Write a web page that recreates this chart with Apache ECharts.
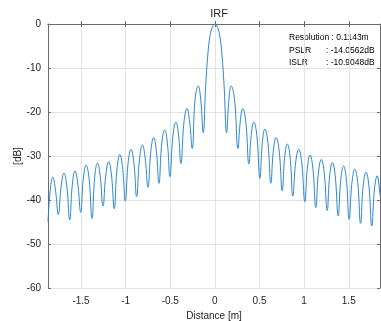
<!DOCTYPE html>
<html>
<head>
<meta charset="utf-8">
<script src="https://cdn.jsdelivr.net/npm/echarts@6/dist/echarts.min.js"></script>
<style>html,body{margin:0;padding:0;background:#fff}#c{width:381px;height:321px}</style>
</head>
<body>
<div id="c"></div>
<script>
// Distance [m] of each read point (nulls, lobe shoulders, peaks)
var distance = [
 -1.870,
 -1.845,-1.817,-1.786,-1.755,
 -1.723,-1.691,-1.659,-1.627,
 -1.597,-1.568,-1.536,-1.504,
 -1.474,-1.443,-1.410,-1.377,
 -1.346,-1.315,-1.285,-1.254,
 -1.222,-1.190,-1.159,-1.128,
 -1.096,-1.064,-1.034,-1.004,
 -0.972,-0.940,-0.908,-0.877,
 -0.844,-0.812,-0.781,-0.750,
 -0.717,-0.686,-0.656,-0.627,
 -0.595,-0.562,-0.532,-0.504,
 -0.470,-0.436,-0.407,-0.381,
 -0.346,-0.312,-0.283,-0.254,
 -0.222,-0.187,-0.159,-0.131,
 -0.103,-0.078,-0.057,-0.030,
 0.000,
 0.030,0.057,0.078,0.103,
 0.131,0.157,0.183,0.220,
 0.258,0.284,0.312,0.346,
 0.381,0.407,0.436,0.470,
 0.504,0.532,0.560,0.594,
 0.627,0.655,0.686,0.720,
 0.754,0.782,0.812,0.843,
 0.873,0.905,0.939,0.973,
 1.008,1.036,1.066,1.098,
 1.131,1.160,1.192,1.225,
 1.258,1.286,1.316,1.348,
 1.381,1.411,1.442,1.473,
 1.504,1.536,1.568,1.600,
 1.632,1.662,1.693,1.725,
 1.758,1.788,1.818,1.850
];
// IRF level [dB] at each point above
var levelDb = [
 -45.0,
 -37.8,-34.8,-37.8,-43.3,
 -36.9,-33.9,-36.9,-44.5,
 -36.4,-33.4,-36.4,-42.8,
 -35.1,-32.1,-35.1,-44.2,
 -34.6,-31.6,-34.6,-41.4,
 -34.3,-31.3,-34.3,-42.0,
 -32.7,-29.7,-32.7,-40.2,
 -31.5,-28.5,-31.5,-39.2,
 -30.5,-27.5,-30.5,-37.1,
 -28.8,-25.8,-28.8,-36.2,
 -27.1,-24.1,-27.1,-34.7,
 -25.3,-22.3,-25.3,-31.7,
 -22.2,-19.2,-22.2,-28.3,
 -17.1,-14.1,-17.1,-24.7,
 -14.0,-6.7,-3.0,-0.8,
 0.0,
 -0.8,-3.0,-6.7,-14.0,
 -24.7,-17.2,-14.1,-17.1,
 -28.3,-22.2,-19.2,-22.2,
 -31.8,-25.3,-22.3,-25.3,
 -35.1,-26.9,-23.9,-26.9,
 -36.2,-28.8,-25.8,-28.8,
 -37.9,-30.3,-27.3,-30.3,
 -39.1,-31.5,-28.5,-31.5,
 -40.4,-32.8,-29.8,-32.8,
 -41.7,-33.8,-30.8,-33.8,
 -42.4,-34.5,-31.5,-34.5,
 -43.6,-35.3,-32.3,-35.3,
 -44.4,-36.0,-33.0,-36.0,
 -45.3,-36.7,-33.7,-36.7,
 -45.9,-37.5,-34.5,-39.0
];
var statLabels = ['Resolution', 'PSLR', 'ISLR'];
var statValues = ['0.1143m', '-14.0562dB', '-10.9048dB'];

var pts = distance.map(function (d, i) { return [d, levelDb[i]]; });
var FONT = 'Liberation Sans, Arial, sans-serif';
var AX = '#6b6b6b', TXT = '#262626', GRIDC = '#e3e3e3';

var chart = echarts.init(document.getElementById('c'), null, {renderer: 'canvas'});
chart.setOption({
  animation: false,
  backgroundColor: '#fff',
  title: {
    text: 'IRF', left: 214, top: 3, textAlign: 'center',
    textStyle: {fontFamily: FONT, fontSize: 11, fontWeight: 'normal', color: TXT}
  },
  grid: {left: 48, right: 1, top: 24, bottom: 33, containLabel: false, outerBoundsMode: 'none'},
  xAxis: [{
    type: 'value', min: -1.87, max: 1.85, minInterval: 0.5, maxInterval: 0.5,
    name: 'Distance [m]', nameLocation: 'middle', nameGap: 23, nameMoveOverlap: false,
    nameTextStyle: {fontFamily: FONT, fontSize: 10, color: TXT},
    axisLine: {show: true, lineStyle: {color: AX, width: 1}},
    axisTick: {show: true, inside: true, length: 3, lineStyle: {color: AX}},
    axisLabel: {fontFamily: FONT, fontSize: 10, color: TXT, margin: 8, showMinLabel: false, showMaxLabel: false},
    splitLine: {show: true, lineStyle: {color: GRIDC, width: 1}}
  }, {
    type: 'value', position: 'top', min: -1.87, max: 1.85, minInterval: 0.5, maxInterval: 0.5,
    axisLine: {show: true, onZero: false, lineStyle: {color: AX, width: 1}},
    axisTick: {show: true, inside: true, length: 3, lineStyle: {color: AX}},
    axisLabel: {show: false}, splitLine: {show: false}
  }],
  yAxis: [{
    type: 'value', min: -60, max: 0, interval: 10,
    name: '[dB]', nameLocation: 'middle', nameGap: 25, nameRotate: 90, nameMoveOverlap: false,
    nameTextStyle: {fontFamily: FONT, fontSize: 10, color: TXT},
    axisLine: {show: true, onZero: false, lineStyle: {color: AX, width: 1}},
    axisTick: {show: true, inside: true, length: 3, lineStyle: {color: AX}},
    axisLabel: {fontFamily: FONT, fontSize: 10, color: TXT, margin: 7},
    splitLine: {show: true, lineStyle: {color: GRIDC, width: 1}}
  }, {
    type: 'value', position: 'right', min: -60, max: 0, interval: 10,
    axisLine: {show: true, onZero: false, lineStyle: {color: AX, width: 1}},
    axisTick: {show: true, inside: true, length: 3, lineStyle: {color: AX}},
    axisLabel: {show: false}, splitLine: {show: false}
  }],
  series: [{
    type: 'line', xAxisIndex: 0, yAxisIndex: 0, data: pts,
    showSymbol: false, smooth: 0.45, clip: true,
    lineStyle: {color: '#2a86cc', width: 1}
  }],
  graphic: [
    {type: 'text', left: 289, top: 33, style: {text: statLabels[0] + ' : ' + statValues[0], font: '8.5px ' + FONT, fill: '#000'}},
    {type: 'text', left: 289, top: 46, style: {text: statLabels[1], font: '8.5px ' + FONT, fill: '#000'}},
    {type: 'text', left: 326, top: 46, style: {text: ': ' + statValues[1], font: '8.5px ' + FONT, fill: '#000'}},
    {type: 'text', left: 289, top: 58, style: {text: statLabels[2], font: '8.5px ' + FONT, fill: '#000'}},
    {type: 'text', left: 326, top: 58, style: {text: ': ' + statValues[2], font: '8.5px ' + FONT, fill: '#000'}}
  ]
});
</script>
</body>
</html>
